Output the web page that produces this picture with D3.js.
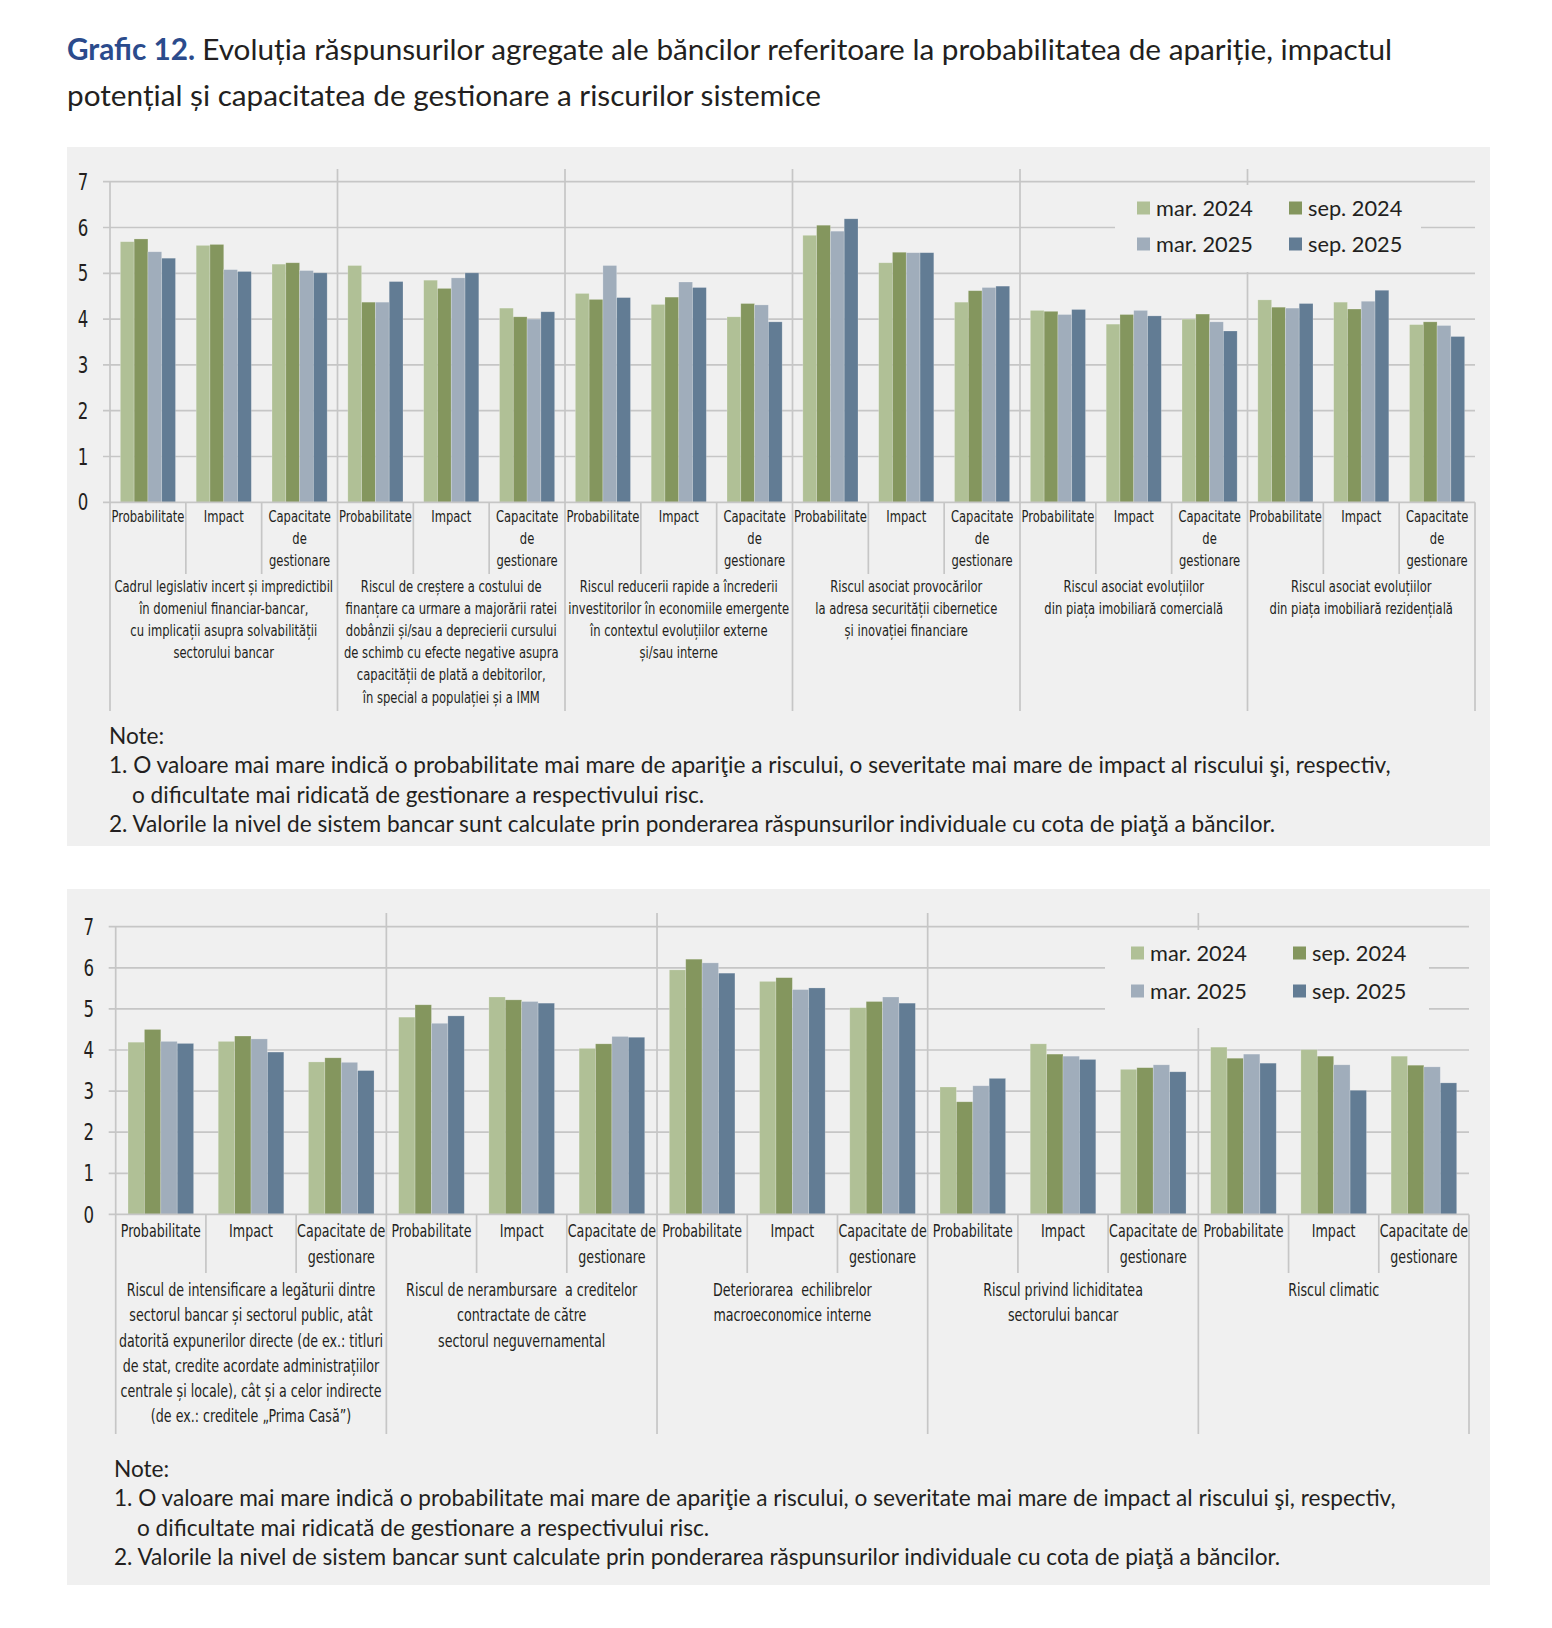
<!DOCTYPE html>
<html>
<head>
<meta charset="utf-8">
<script src="https://cdn.jsdelivr.net/npm/d3@7"></script>
<style>
  body { margin: 0; background: #fff; }
  .cond { font-family: "DejaVu Sans Condensed", "DejaVu Sans", sans-serif; fill: #231f20; }
  .reg { font-family: Lato, "Noto Sans", sans-serif; fill: #231f20; }
</style>
</head>
<body>
<script>
// series (legend) and y ticks
const seriesNames = ["mar. 2024", "sep. 2024", "mar. 2025", "sep. 2025"];
const seriesColors = ["#b0c096", "#84965e", "#a0adbb", "#627c94"];
const yTicks = [0, 1, 2, 3, 4, 5, 6, 7];

// sub-categories repeated in every group
const topSubLabels = [["Probabilitate"], ["Impact"], ["Capacitate", "de", "gestionare"]];
const bottomSubLabels = [["Probabilitate"], ["Impact"], ["Capacitate de", "gestionare"]];

// chart 1 groups
const topGroups = [
  ["Cadrul legislativ incert și impredictibil", "în domeniul financiar-bancar,", "cu implicații asupra solvabilității", "sectorului bancar"],
  ["Riscul de creștere a costului de", "finanțare ca urmare a majorării ratei", "dobânzii și/sau a deprecierii cursului", "de schimb cu efecte negative asupra", "capacității de plată a debitorilor,", "în special a populației și a IMM"],
  ["Riscul reducerii rapide a încrederii", "investitorilor în economiile emergente", "în contextul evoluțiilor externe", "și/sau interne"],
  ["Riscul asociat provocărilor", "la adresa securității cibernetice", "și inovației financiare"],
  ["Riscul asociat evoluțiilor", "din piața imobiliară comercială"],
  ["Riscul asociat evoluțiilor", "din piața imobiliară rezidențială"]
];
// chart 1 values (Probabilitate, Impact, Capacitate for each group)
const topMar2024 = [5.69, 5.61, 5.20, 5.17, 4.85, 4.24, 4.56, 4.32, 4.05, 5.83, 5.23, 4.37, 4.19, 3.89, 4.00, 4.42, 4.37, 3.88];
const topSep2024 = [5.75, 5.63, 5.23, 4.37, 4.67, 4.05, 4.43, 4.48, 4.34, 6.05, 5.46, 4.62, 4.17, 4.10, 4.11, 4.26, 4.22, 3.94];
const topMar2025 = [5.47, 5.08, 5.06, 4.37, 4.90, 4.00, 5.17, 4.81, 4.31, 5.92, 5.45, 4.69, 4.10, 4.19, 3.94, 4.24, 4.39, 3.86];
const topSep2025 = [5.33, 5.04, 5.01, 4.82, 5.01, 4.16, 4.47, 4.69, 3.94, 6.19, 5.45, 4.72, 4.21, 4.07, 3.74, 4.34, 4.63, 3.62];

// chart 2 groups
const bottomGroups = [
  ["Riscul de intensificare a legăturii dintre", "sectorul bancar și sectorul public, atât", "datorită expunerilor directe (de ex.: titluri", "de stat, credite acordate administrațiilor", "centrale și locale), cât și a celor indirecte", "(de ex.: creditele „Prima Casă”)"],
  ["Riscul de nerambursare  a creditelor", "contractate de către", "sectorul neguvernamental"],
  ["Deteriorarea  echilibrelor", "macroeconomice interne"],
  ["Riscul privind lichiditatea", "sectorului bancar"],
  ["Riscul climatic"]
];
const bottomMar2024 = [4.19, 4.21, 3.71, 4.80, 5.29, 4.04, 5.95, 5.67, 5.03, 3.10, 4.15, 3.53, 4.07, 4.01, 3.85];
const bottomSep2024 = [4.50, 4.34, 3.81, 5.10, 5.22, 4.15, 6.21, 5.76, 5.18, 2.74, 3.90, 3.57, 3.80, 3.85, 3.63];
const bottomMar2025 = [4.21, 4.27, 3.70, 4.65, 5.18, 4.33, 6.12, 5.47, 5.29, 3.13, 3.85, 3.64, 3.90, 3.64, 3.59];
const bottomSep2025 = [4.16, 3.95, 3.50, 4.83, 5.14, 4.31, 5.87, 5.51, 5.14, 3.31, 3.77, 3.47, 3.68, 3.02, 3.20];

const titleBold = "Grafic 12. ";
const titleLine1 = "Evoluția răspunsurilor agregate ale băncilor referitoare la probabilitatea de apariție, impactul";
const titleLine2 = "potențial și capacitatea de gestionare a riscurilor sistemice";
const noteLines = [
  "Note:",
  "1. O valoare mai mare indică o probabilitate mai mare de apariţie a riscului, o severitate mai mare de impact al riscului şi, respectiv,",
  "o dificultate mai ridicată de gestionare a respectivului risc.",
  "2. Valorile la nivel de sistem bancar sunt calculate prin ponderarea răspunsurilor individuale cu cota de piaţă a băncilor."
];

const W = 1552, H = 1628;
const gridColor = "#c6c6c6";

const svg = d3.select("body").append("svg")
  .attr("width", W)
  .attr("height", H);

// width of a string at a given size
function textWidth(str, cls, size, weight) {
  const t = svg.append("text").attr("class", cls)
    .style("font-size", size + "px").style("font-weight", weight || "normal").text(str);
  const w = t.node().getComputedTextLength();
  t.remove();
  return w;
}
// font size that makes a string reach a given width
function fitSize(str, cls, target) {
  return 100 * target / textWidth(str, cls, 100);
}

// multi-line text squeezed horizontally (stand-in for a condensed face)
function condText(parent, x, y, lines, lineH, size, sx, anchor) {
  const t = parent.append("text").attr("class", "cond")
    .attr("transform", "translate(" + x + "," + y + ") scale(" + sx + ",1)")
    .attr("text-anchor", anchor || "middle")
    .style("font-size", size + "px")
    .style("white-space", "pre");
  lines.forEach((l, j) => {
    t.append("tspan").attr("x", 0).attr("y", j * lineH).attr("dy", "0.36em").text(l);
  });
  return t;
}

// title
const titleSize = fitSize(titleBold + titleLine1, "reg", 1325);
const title = svg.append("text").attr("class", "reg")
  .attr("x", 67).attr("y", 60)
  .style("font-size", titleSize + "px");
title.append("tspan").style("font-weight", "bold").style("fill", "#2b4b8c").text(titleBold);
title.append("tspan").text(titleLine1);
svg.append("text").attr("class", "reg")
  .attr("x", 67).attr("y", 106)
  .style("font-size", titleSize + "px")
  .text(titleLine2);

function drawPanel(p) {
  const g = svg.append("g");

  g.append("rect")
    .attr("x", 67).attr("y", p.panelTop)
    .attr("width", 1423).attr("height", p.panelBottom - p.panelTop)
    .attr("fill", "#f0f0f0");

  const nCat = p.groups.length * 3;
  const values = [p.s1, p.s2, p.s3, p.s4];

  const x0 = d3.scaleBand().domain(d3.range(nCat)).range([p.left, p.right]);
  const x1 = d3.scaleBand().domain(seriesNames).range([0, x0.bandwidth()])
    .paddingInner(0).paddingOuter(0.75);
  const y = d3.scaleLinear().domain([0, 7]).range([p.axisY, p.topY]);

  // gridlines
  g.selectAll(".grid").data(yTicks.slice(1)).enter().append("line")
    .attr("x1", p.left - 7).attr("x2", p.right)
    .attr("y1", d => y(d)).attr("y2", d => y(d))
    .attr("stroke", gridColor).attr("stroke-width", 1.7);

  // group separators inside the plot
  const groupEdges = d3.range(1, p.groups.length).map(i => x0(i * 3));
  g.selectAll(".sep").data(groupEdges).enter().append("line")
    .attr("x1", d => d).attr("x2", d => d)
    .attr("y1", p.sepTop).attr("y2", p.axisY)
    .attr("stroke", gridColor).attr("stroke-width", 1.7);

  // bars
  const cats = g.selectAll(".cat").data(d3.range(nCat)).enter().append("g")
    .attr("transform", i => "translate(" + x0(i) + ",0)");
  cats.selectAll("rect")
    .data(i => seriesNames.map((s, k) => ({ s: s, k: k, v: values[k][i] })))
    .enter().append("rect")
    .attr("x", d => x1(d.s))
    .attr("width", x1.bandwidth())
    .attr("y", d => y(d.v))
    .attr("height", d => y(0) - y(d.v))
    .attr("fill", d => seriesColors[d.k])
    .attr("stroke", "#ffffff").attr("stroke-opacity", 0.3).attr("stroke-width", 0.7);

  // legend box hides the grid behind it
  g.append("rect")
    .attr("x", p.legend.x).attr("y", p.legend.y)
    .attr("width", p.legend.w).attr("height", p.legend.h)
    .attr("fill", "#f0f0f0");
  const legSize = fitSize("mar. 2024", "reg", p.legend.textW);
  seriesNames.forEach((s, k) => {
    const lx = p.legend.cols[k % 2], ly = p.legend.rows[Math.floor(k / 2)];
    g.append("rect")
      .attr("x", lx).attr("y", ly - p.legend.sq / 2)
      .attr("width", p.legend.sq).attr("height", p.legend.sq)
      .attr("fill", seriesColors[k]);
    g.append("text").attr("class", "reg")
      .attr("x", lx + p.legend.sq + 6).attr("y", ly)
      .attr("dy", "0.36em")
      .style("font-size", legSize + "px")
      .text(s);
  });

  // y axis line and tick labels
  g.append("line")
    .attr("x1", p.left).attr("x2", p.left)
    .attr("y1", y(7)).attr("y2", p.axisY)
    .attr("stroke", gridColor).attr("stroke-width", 1.7);
  yTicks.forEach(d => condText(g, p.left - 27, y(d), [String(d)], 0, p.yFont, 0.82));

  // category axis line
  g.append("line")
    .attr("x1", p.left - 7).attr("x2", p.right)
    .attr("y1", p.axisY).attr("y2", p.axisY)
    .attr("stroke", gridColor).attr("stroke-width", 1.7);

  // category boundaries below the axis
  const edges = d3.range(nCat + 1);
  g.selectAll(".edge").data(edges).enter().append("line")
    .attr("x1", i => i < nCat ? x0(i) : p.right)
    .attr("x2", i => i < nCat ? x0(i) : p.right)
    .attr("y1", p.axisY)
    .attr("y2", i => i % 3 === 0 ? p.groupBottom : p.subBottom)
    .attr("stroke", gridColor).attr("stroke-width", 1.7);

  // sub-category labels
  const sx = p.probW / textWidth("Probabilitate", "cond", p.catFont);
  d3.range(nCat).forEach(i => {
    condText(g, x0(i) + x0.bandwidth() / 2, p.catY, p.subLabels[i % 3], p.catLine, p.catFont, sx);
  });

  // group labels
  p.groups.forEach((lines, gi) => {
    const cx = (x0(gi * 3) + (gi * 3 + 3 < nCat ? x0(gi * 3 + 3) : p.right)) / 2;
    condText(g, cx, p.grpY, lines, p.grpLine, p.catFont, sx);
  });

  // notes
  const noteSize = fitSize(noteLines[1], "reg", p.noteW);
  noteLines.forEach((l, j) => {
    g.append("text").attr("class", "reg")
      .attr("x", j === 2 ? p.noteX + 23 : p.noteX)
      .attr("y", p.noteY + j * 29.3)
      .attr("dy", "0.36em")
      .style("font-size", noteSize + "px")
      .text(l);
  });
}

drawPanel({
  panelTop: 147, panelBottom: 846,
  left: 110, right: 1475, axisY: 502.3, topY: 181.7,
  sepTop: 169, subBottom: 574, groupBottom: 711,
  groups: topGroups, subLabels: topSubLabels,
  s1: topMar2024, s2: topSep2024, s3: topMar2025, s4: topSep2025,
  yFont: 22.5, catFont: 15.5, probW: 73, catY: 516, catLine: 22, grpY: 586, grpLine: 22.2,
  legend: { x: 1115, y: 185, w: 306, h: 87, sq: 13, cols: [1137, 1289], rows: [208, 244], textW: 97 },
  noteX: 109, noteY: 736, noteW: 1282
});

drawPanel({
  panelTop: 889, panelBottom: 1585,
  left: 115.7, right: 1469, axisY: 1214.4, topY: 926.7,
  sepTop: 913, subBottom: 1273, groupBottom: 1434,
  groups: bottomGroups, subLabels: bottomSubLabels,
  s1: bottomMar2024, s2: bottomSep2024, s3: bottomMar2025, s4: bottomSep2025,
  yFont: 22.5, catFont: 17, probW: 80, catY: 1231, catLine: 26, grpY: 1290, grpLine: 25.2,
  legend: { x: 1105, y: 930, w: 324, h: 98, sq: 13, cols: [1131, 1293], rows: [953, 991], textW: 97 },
  noteX: 114, noteY: 1469, noteW: 1282
});
</script>
</body>
</html>
